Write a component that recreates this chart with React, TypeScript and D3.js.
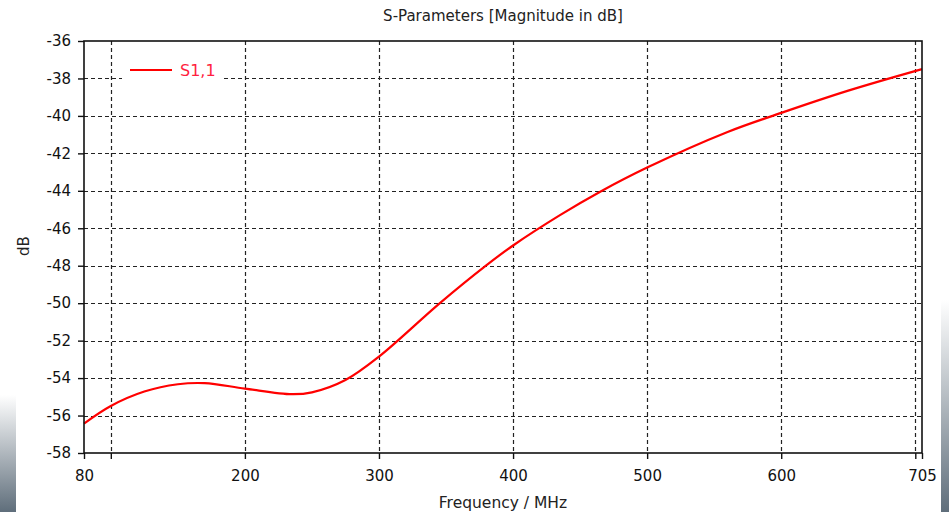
import React, { useEffect, useRef } from 'react';
import * as d3 from 'd3';

const WIDTH = 949;
const HEIGHT = 512;
const margin = { top: 41, right: 27, bottom: 59, left: 84 };

// S1,1
const freqs = [80, 100, 125, 150, 170, 200, 235, 250, 275, 300, 345, 380, 400, 435, 465, 500, 560, 600, 650, 705];
const s11 = [-56.43, -55.49, -54.72, -54.33, -54.27, -54.56, -54.86, -54.76, -54.1, -52.85, -50.02, -47.98, -46.92, -45.3, -44.05, -42.76, -40.86, -39.84, -38.65, -37.5];

const xTicks = [80, 100, 200, 300, 400, 500, 600, 700, 705];
const xLabels = [80, 200, 300, 400, 500, 600, 705];
const xGrid = [100, 200, 300, 400, 500, 600, 700];
const yTicks = [-58, -56, -54, -52, -50, -48, -46, -44, -42, -40, -38, -36];
const yGrid = [-56, -54, -52, -50, -48, -46, -44, -42, -40, -38];

const FONT = '"DejaVu Sans", sans-serif';

export default function App() {
  const ref = useRef<SVGSVGElement>(null);

  useEffect(() => {
    const svg = d3.select(ref.current);
    svg.selectAll('*').remove();

    const x = d3.scaleLinear().domain([80, 705]).range([margin.left, WIDTH - margin.right]);
    const y = d3.scaleLinear().domain([-58, -36]).range([HEIGHT - margin.bottom, margin.top]);
    const [x0, x1] = x.range();
    const [y0, y1] = y.range();

    // window edge shading
    const defs = svg.append('defs');
    const grad = defs.append('linearGradient').attr('id', 'edge').attr('x1', 0).attr('y1', 0).attr('x2', 0).attr('y2', 1);
    grad.append('stop').attr('offset', '0%').attr('stop-color', '#ffffff');
    grad.append('stop').attr('offset', '100%').attr('stop-color', '#5f6e7b');
    svg.append('rect').attr('x', 941).attr('y', 300).attr('width', 8).attr('height', 212).attr('fill', 'url(#edge)');
    svg.append('rect').attr('x', 0).attr('y', 395).attr('width', 16).attr('height', 117).attr('fill', 'url(#edge)');

    const grid = svg.append('g').attr('stroke', '#222').attr('stroke-width', 1.2).attr('stroke-dasharray', '4,3');
    grid.selectAll('.gx').data(xGrid).join('line')
      .attr('x1', d => Math.round(x(d)) + 0.5).attr('x2', d => Math.round(x(d)) + 0.5)
      .attr('y1', y1).attr('y2', y0);
    grid.selectAll('.gy').data(yGrid).join('line')
      .attr('y1', d => Math.round(y(d)) + 0.5).attr('y2', d => Math.round(y(d)) + 0.5)
      .attr('x1', x0).attr('x2', x1);

    // legend box
    const lg = svg.append('g');
    lg.append('rect').attr('x', 122).attr('y', 56).attr('width', 99).attr('height', 30).attr('fill', '#fff');
    lg.append('line').attr('x1', 130).attr('x2', 172).attr('y1', 70).attr('y2', 70)
      .attr('stroke', '#ff0000').attr('stroke-width', 2);
    lg.append('text').attr('x', 180).attr('y', 76).attr('fill', '#ff1e40')
      .attr('font-family', FONT).attr('font-size', 16).text('S1,1');

    const line = d3.line<number>()
      .x((_, i) => x(freqs[i]))
      .y(d => y(d))
      .curve(d3.curveCatmullRom.alpha(0.5));

    svg.append('path').datum(s11).attr('d', line)
      .attr('fill', 'none').attr('stroke', '#ff0000').attr('stroke-width', 2.2);

    // frame
    svg.append('rect').attr('x', x0).attr('y', y1).attr('width', x1 - x0).attr('height', y0 - y1)
      .attr('fill', 'none').attr('stroke', '#111').attr('stroke-width', 1.6);

    const xAxis = d3.axisBottom(x).tickValues(xTicks).tickSize(6)
      .tickFormat(d => (xLabels.includes(+d) ? String(d) : ''));
    const gx = svg.append('g').attr('transform', `translate(0,${y0})`).call(xAxis);
    gx.select('.domain').remove();
    gx.selectAll('line').attr('stroke', '#111').attr('stroke-width', 1.4);
    gx.selectAll('text').attr('font-family', FONT).attr('font-size', 15).attr('fill', '#111').attr('dy', '1.25em');

    const yAxis = d3.axisLeft(y).tickValues(yTicks).tickSize(6).tickFormat(d => String(d).replace('−', '-'));
    const gy = svg.append('g').attr('transform', `translate(${x0},0)`).call(yAxis);
    gy.select('.domain').remove();
    gy.selectAll('line').attr('stroke', '#111').attr('stroke-width', 1.4);
    gy.selectAll('text').attr('font-family', FONT).attr('font-size', 15).attr('fill', '#111').attr('x', -13);

    svg.append('text').attr('x', (x0 + x1) / 2).attr('y', 21).attr('text-anchor', 'middle')
      .attr('font-family', FONT).attr('font-size', 15).attr('fill', '#222')
      .text('S-Parameters [Magnitude in dB]');

    svg.append('text').attr('x', (x0 + x1) / 2).attr('y', 508).attr('text-anchor', 'middle')
      .attr('font-family', FONT).attr('font-size', 15.5).attr('fill', '#222')
      .text('Frequency / MHz');

    svg.append('text').attr('transform', `translate(29,246) rotate(-90)`).attr('text-anchor', 'middle')
      .attr('font-family', FONT).attr('font-size', 15).attr('fill', '#222')
      .text('dB');
  }, []);

  return (
    <svg
      ref={ref}
      width={WIDTH}
      height={HEIGHT}
      style={{ position: 'absolute', left: 0, top: 0, background: '#fff' }}
    />
  );
}
